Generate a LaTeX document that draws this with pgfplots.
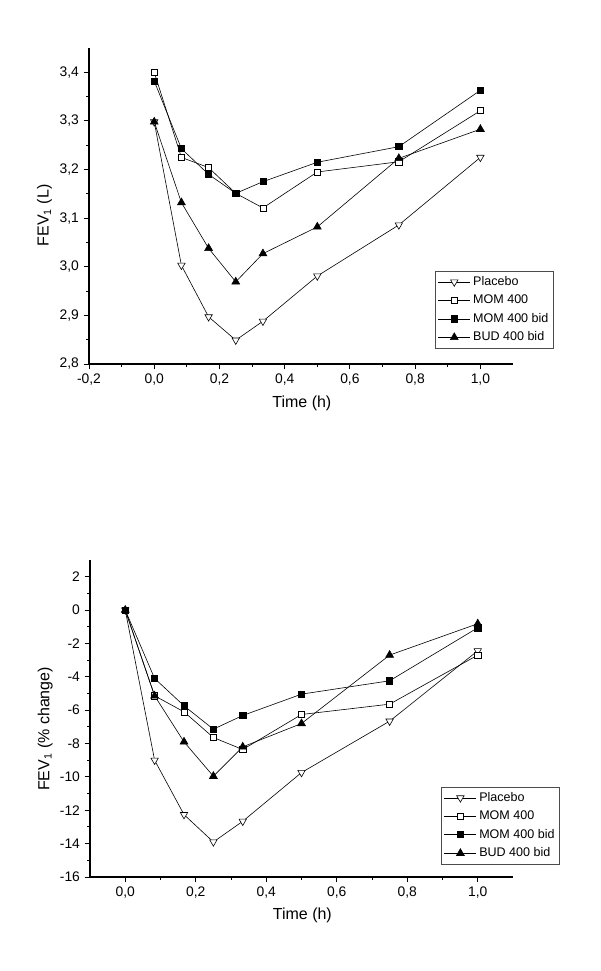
\documentclass[border=0pt]{standalone}
\usepackage{fontspec}
\setmainfont{Liberation Sans}
\usepackage{pgfplots}
\pgfplotsset{compat=1.18}
\pgfplotsset{
  fevstyle/.style={
    scale only axis,
    axis x line*=bottom, axis y line*=left,
    axis line style={-, line width=0.8pt},
    tick align=outside,
    major tick length=4pt, minor tick length=2.2pt,
    every tick/.style={black, line width=0.7pt},
    minor x tick num=1, minor y tick num=1,
    /pgf/number format/assume math mode=true,
    tick label style={font=\fontsize{10.4}{12}\selectfont},
    label style={font=\fontsize{12}{14}\selectfont},
    xtick={-0.2,0,0.2,0.4,0.6,0.8,1.0},
    xticklabel style={/pgf/number format/.cd, fixed, fixed zerofill, precision=1, use comma},
    xlabel={Time (h)},
    xlabel style={at={(axis description cs:0.502,-0.123)}, anchor=center},
    ylabel style={at={(axis description cs:-0.105,0.47)}, anchor=center, rotate=0},
    legend cell align=left,
    legend style={draw=black!70, line width=0.6pt, font=\fontsize{9.4}{11}\selectfont,
      row sep=1.6pt, inner sep=2pt, anchor=north west},
    legend image code/.code={
      \draw[mark repeat=2,mark phase=2,#1] plot coordinates {(0cm,0cm) (0.42cm,0cm) (0.84cm,0cm)};
    },
    every axis plot/.append style={line width=0.45pt, black},
  },
  pl/.style={mark=triangle*, mark size=3.2pt, mark options={rotate=180, fill=white, line width=0.45pt}},
  mo/.style={mark=square*, mark size=2.3pt, mark options={fill=white, line width=0.45pt}},
  mb/.style={mark=square*, mark size=2.3pt, mark options={fill=black}},
  bu/.style={mark=triangle*, mark size=3.4pt, mark options={fill=black}},
}
\begin{document}
\begin{tikzpicture}[x=1pt,y=1pt]
\path[use as bounding box] (0,0) rectangle (450,728.25);
% top axis
\begin{axis}[fevstyle,
  at={(66.75pt,455.25pt)}, anchor=south west,
  width=318pt, height=237pt,
  xmin=-0.2, xmax=1.1, ymin=2.8, ymax=3.45,
  ytick={2.8,2.9,3.0,3.1,3.2,3.3,3.4},
  yticklabel style={/pgf/number format/.cd, fixed, fixed zerofill, precision=1, use comma},
  ylabel={FEV\textsubscript{1} (L)},
  legend style={at={(axis description cs:0.816,0.295)}},
]
\addplot[pl] coordinates {(0,3.298) (0.0833,3.003) (0.1667,2.897) (0.25,2.849) (0.3333,2.888) (0.5,2.981) (0.75,3.086) (1.0,3.225)};
\addlegendentry{Placebo}
\addplot[mo] coordinates {(0,3.400) (0.0833,3.225) (0.1667,3.204) (0.25,3.151) (0.3333,3.121) (0.5,3.195) (0.75,3.216) (1.0,3.321)};
\addlegendentry{MOM 400}
\addplot[mb] coordinates {(0,3.382) (0.0833,3.243) (0.1667,3.190) (0.25,3.151) (0.3333,3.175) (0.5,3.215) (0.75,3.247) (1.0,3.363)};
\addlegendentry{MOM 400 bid}
\addplot[bu] coordinates {(0,3.298) (0.0833,3.132) (0.1667,3.038) (0.25,2.969) (0.3333,3.027) (0.5,3.082) (0.75,3.223) (1.0,3.283)};
\addlegendentry{BUD 400 bid}
\end{axis}
% bottom axis
\begin{axis}[fevstyle,
  at={(67.5pt,70.5pt)}, anchor=south west,
  width=317.25pt, height=237.75pt,
  xmin=-0.1, xmax=1.1, ymin=-16, ymax=3,
  xtick={0,0.2,0.4,0.6,0.8,1.0},
  ytick={-16,-14,-12,-10,-8,-6,-4,-2,0,2},
  ylabel={FEV\textsubscript{1} (\% change)},
  xlabel style={at={(axis description cs:0.502,-0.12)}},
  ylabel style={at={(axis description cs:-0.106,0.467)}},
  legend style={at={(axis description cs:0.830,0.285)}},
]
\addplot[pl] coordinates {(0,0) (0.0833,-9.0) (0.1667,-12.26) (0.25,-13.9) (0.3333,-12.66) (0.5,-9.74) (0.75,-6.66) (1.0,-2.44)};
\addlegendentry{Placebo}
\addplot[mo] coordinates {(0,0) (0.0833,-5.14) (0.1667,-6.1) (0.25,-7.64) (0.3333,-8.36) (0.5,-6.26) (0.75,-5.64) (1.0,-2.7)};
\addlegendentry{MOM 400}
\addplot[mb] coordinates {(0,0) (0.0833,-4.1) (0.1667,-5.74) (0.25,-7.14) (0.3333,-6.32) (0.5,-5.04) (0.75,-4.24) (1.0,-1.06)};
\addlegendentry{MOM 400 bid}
\addplot[bu] coordinates {(0,0) (0.0833,-5.14) (0.1667,-7.9) (0.25,-9.96) (0.3333,-8.2) (0.5,-6.8) (0.75,-2.7) (1.0,-0.82)};
\addlegendentry{BUD 400 bid}
\end{axis}
\end{tikzpicture}
\end{document}
